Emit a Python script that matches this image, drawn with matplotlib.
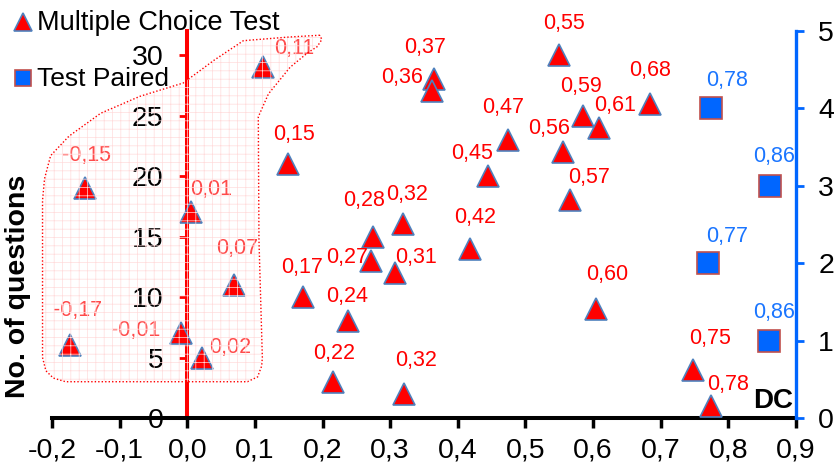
import matplotlib
matplotlib.use("Agg")
import matplotlib.pyplot as plt
from matplotlib.patches import Polygon
from matplotlib.lines import Line2D

plt.rcParams['font.family'] = ['Liberation Sans', 'DejaVu Sans']
plt.rcParams['hatch.linewidth'] = 0.5

# Multiple choice test items: DC value (x) and number of questions (left axis)
mc_x = [-0.173, -0.151, -0.009, 0.022, 0.006, 0.069, 0.112, 0.149, 0.171, 0.238,
        0.216, 0.321, 0.272, 0.307, 0.275, 0.319, 0.418, 0.445, 0.474, 0.365,
        0.362, 0.549, 0.555, 0.566, 0.585, 0.609, 0.684, 0.604, 0.747, 0.775]
mc_y = [6, 19, 7, 5, 17, 11, 29, 21, 10, 8,
        3, 2, 13, 12, 15, 16, 14, 20, 23, 28,
        27, 30, 22, 18, 25, 24, 26, 9, 4, 1]
mc_labels = ["-0,17", "-0,15", "-0,01", "0,02", "0,01", "0,07", "0,11", "0,15", "0,17", "0,24",
             "0,22", "0,32", "0,27", "0,31", "0,28", "0,32", "0,42", "0,45", "0,47", "0,37",
             "0,36", "0,55", "0,56", "0,57", "0,59", "0,61", "0,68", "0,60", "0,75", "0,78"]
# label offsets in pixels (dx, dy upwards)
mc_offsets = [(7, 35), (1, 33), (-46, 3), (28, 10), (20, 23), (3, 36), (31, 19), (6, 30), (-1, 30), (-1, 25),
              (1, 28), (12, 33), (-24, 3), (21, 15), (-9, 36), (4, 30), (5, 31), (-16, 23), (-5, 32), (-9, 32),
              (-30, 14), (5, 32), (-14, 23), (19, 23), (-2, 29), (16, 22), (0, 33), (11, 35), (18, 31), (17, 21)]
in_region = 7  # first seven items sit inside the shaded area

# Test paired items: DC value (x) and count (right axis)
tp_x = [0.775, 0.861, 0.770, 0.860]
tp_y = [4, 3, 2, 1]
tp_labels = ["0,78", "0,86", "0,77", "0,86"]
tp_offsets = [(16, 28), (4, 29), (19, 27), (5, 28)]

x_ticks = [-0.2, -0.1, 0.0, 0.1, 0.2, 0.3, 0.4, 0.5, 0.6, 0.7, 0.8, 0.9]
x_tick_labels = ["-0,2", "-0,1", "0,0", "0,1", "0,2", "0,3", "0,4", "0,5", "0,6", "0,7", "0,8", "0,9"]
left_ticks = [0, 5, 10, 15, 20, 25, 30]
right_ticks = [0, 1, 2, 3, 4, 5]

# outline of the highlighted group (data coords, left axis)
region = [(0.196, 31.65), (0.15, 31.5), (0.083, 31.2), (0.04, 29.6), (-0.006, 27.7),
          (-0.07, 26.6), (-0.128, 25.2), (-0.175, 23.3), (-0.202, 21.7), (-0.211, 19.8),
          (-0.214, 18), (-0.214, 5), (-0.209, 3.9), (-0.198, 3.3), (-0.18, 3.0),
          (0.089, 3.0), (0.104, 3.4), (0.110, 4.3), (0.111, 5), (0.106, 14.7),
          (0.105, 24.9), (0.12, 26.8), (0.152, 29), (0.178, 30.2), (0.192, 30.7), (0.199, 31.3)]

red = '#FF0000'
tri_edge = '#4F81BD'
blue = '#0066FF'
blue_text = '#1A75FF'

fig = plt.figure(figsize=(8.37, 4.65), dpi=100)
ax = fig.add_axes([52 / 837, 1 - 418 / 465, (796 - 52) / 837, (418 - 31) / 465])
ax2 = ax.twinx()

ax.set_xlim(-0.2, 0.9)
ax.set_ylim(0, 32)
ax2.set_ylim(0, 5)

ax.plot(mc_x, mc_y, linestyle='none', marker='^', markersize=16,
        markerfacecolor=red, markeredgecolor=tri_edge, markeredgewidth=1.2, zorder=3)
ax2.plot(tp_x, tp_y, linestyle='none', marker='s', markersize=16,
         markerfacecolor=blue, markeredgecolor='#C0504D', markeredgewidth=1.2, zorder=3)

for i, (x, y, lab, off) in enumerate(zip(mc_x, mc_y, mc_labels, mc_offsets)):
    col = '#FF4A4A' if i < in_region else red
    ax.annotate(lab, (x, y), xytext=off, textcoords='offset pixels',
                ha='center', va='center', fontsize=15.5, color=col, zorder=4)
for x, y, lab, off in zip(tp_x, tp_y, tp_labels, tp_offsets):
    ax2.annotate(lab, (x, y), xytext=off, textcoords='offset pixels',
                 ha='center', va='center', fontsize=15.5, color=blue_text, zorder=4)

# shaded group
ax.add_patch(Polygon(region, closed=True, facecolor='none', edgecolor='#FFDCDC',
                     linewidth=0, hatch='++', zorder=5, clip_on=False))
ax.add_patch(Polygon(region, closed=True, facecolor='none', edgecolor=red,
                     linewidth=1.0, linestyle=(0, (1, 1.5)), zorder=5, clip_on=False))

# spines
ax.spines['top'].set_visible(False)
ax2.spines['top'].set_visible(False)
ax.spines['right'].set_visible(False)
ax2.spines['left'].set_visible(False)
ax2.spines['bottom'].set_visible(False)
ax.spines['bottom'].set_linewidth(2.9)
ax.spines['bottom'].set_color('black')
ax.spines['left'].set_position(('data', 0))
ax.spines['left'].set_color(red)
ax.spines['left'].set_linewidth(2.9)
ax.spines['left'].set_zorder(2)
ax2.spines['right'].set_color(blue)
ax2.spines['right'].set_linewidth(2.4)

ax.set_xticks(x_ticks)
ax.set_xticklabels(x_tick_labels)
ax.tick_params(axis='x', direction='out', length=7, width=2.5, color='black',
               labelsize=20.5, pad=7)
ax.set_yticks(left_ticks)
ax.tick_params(axis='y', direction='out', length=6, width=2, color=red,
               labelsize=20.5, pad=11)
ax2.set_yticks(right_ticks)
ax2.tick_params(axis='y', direction='out', length=6, width=2, color=blue,
                labelsize=20.5, pad=10)

fig.text(18 / 837, 1 - 286 / 465, "No. of questions", rotation=90, ha='center', va='center',
         fontsize=20.5, fontweight='bold')
fig.text(773 / 837, 1 - 401 / 465, "DC", ha='center', va='center',
         fontsize=20, fontweight='bold')

# legend drawn by hand in figure coordinates
fig.add_artist(Line2D([23 / 837], [1 - 22 / 465], transform=fig.transFigure, linestyle='none',
                      marker='^', markersize=12.5, markerfacecolor=red,
                      markeredgecolor=tri_edge, markeredgewidth=1.2))
fig.add_artist(Line2D([23 / 837], [1 - 78 / 465], transform=fig.transFigure, linestyle='none',
                      marker='s', markersize=12, markerfacecolor=blue,
                      markeredgecolor='#C0504D', markeredgewidth=1.2))
fig.text(37 / 837, 1 - 30 / 465, "Multiple Choice Test", ha='left', va='baseline', fontsize=19.5)
fig.text(37 / 837, 1 - 86 / 465, "Test Paired", ha='left', va='baseline', fontsize=19)

fig.savefig("out.png", dpi=100)
